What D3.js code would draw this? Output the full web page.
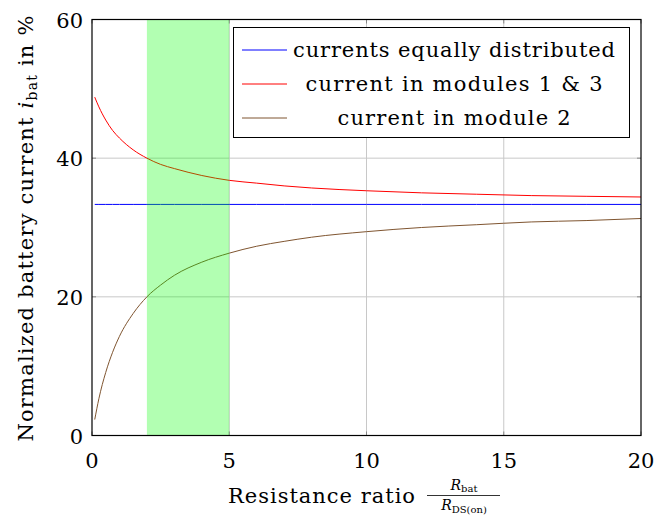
<!DOCTYPE html>
<html lang="en">
  <head>
    <meta charset="utf-8" />
    <script src="https://d3js.org/d3.v7.min.js"></script>
    <style>
      body { margin: 0; background: #fff; }
      text { font-family: "DejaVu Serif", serif; fill: #000; }
    </style>
  </head>
  <body>
    <svg id="chart" width="669" height="521"></svg>
    <script>
    // Data
    var ratios = [0.1, 0.25, 0.5, 0.75, 1, 1.5, 2, 2.5, 3, 4, 5, 6, 7, 8, 10, 12, 14, 16, 18, 20];
    var equalShare = [33.33, 33.33, 33.33, 33.33, 33.33, 33.33, 33.33, 33.33, 33.33, 33.33,
                      33.33, 33.33, 33.33, 33.33, 33.33, 33.33, 33.33, 33.33, 33.33, 33.33];
    var modules13 = [48.8, 47.4, 45.5, 44.0, 42.9, 41.2, 40.0, 39.1, 38.5, 37.5,
                     36.8, 36.4, 36.0, 35.7, 35.3, 35.0, 34.8, 34.6, 34.5, 34.4];
    var module2 = [2.3, 5.3, 9.1, 12.0, 14.3, 17.6, 20.0, 21.7, 23.1, 25.0,
                   26.3, 27.3, 28.0, 28.6, 29.4, 30.0, 30.4, 30.8, 31.0, 31.3];
    var xTicks = [0, 5, 10, 15, 20];
    var yTicks = [0, 20, 40, 60];
    var band = [2, 5];
    var seriesNames = ["currents equally distributed", "current in modules 1 & 3", "current in module 2"];
    var seriesColors = ["#0000ff", "#ff0000", "#7f5530"];

    var svg = d3.select("#chart");
    var pL = 92, pR = 641, pT = 19.5, pB = 435.5;

    var x = d3.scaleLinear().domain([0, 20]).range([pL, pR]);
    var y = d3.scaleLinear().domain([0, 60]).range([pB, pT]);

    // grid
    svg.append("g").selectAll("line")
      .data(xTicks.slice(1, -1)).enter().append("line")
        .attr("x1", d => x(d)).attr("x2", d => x(d))
        .attr("y1", pT).attr("y2", pB)
        .attr("stroke", "#c8c8c8").attr("stroke-width", 1);
    svg.append("g").selectAll("line")
      .data(yTicks.slice(1, -1)).enter().append("line")
        .attr("y1", d => y(d)).attr("y2", d => y(d))
        .attr("x1", pL).attr("x2", pR)
        .attr("stroke", "#c8c8c8").attr("stroke-width", 1);

    // ticks (inward, all four sides)
    var tk = svg.append("g").attr("stroke", "#888").attr("stroke-width", 1);
    xTicks.forEach(function(d) {
      tk.append("line").attr("x1", x(d)).attr("x2", x(d)).attr("y1", pB).attr("y2", pB - 4);
      tk.append("line").attr("x1", x(d)).attr("x2", x(d)).attr("y1", pT).attr("y2", pT + 4);
    });
    yTicks.forEach(function(d) {
      tk.append("line").attr("y1", y(d)).attr("y2", y(d)).attr("x1", pL).attr("x2", pL + 4);
      tk.append("line").attr("y1", y(d)).attr("y2", y(d)).attr("x1", pR).attr("x2", pR - 4);
    });

    // curves
    var line = d3.line().x(d => x(d[0])).y(d => y(d[1])).curve(d3.curveMonotoneX);
    [equalShare, modules13, module2].forEach(function(vals, i) {
      svg.append("path")
        .datum(ratios.map((r, j) => [r, vals[j]]))
        .attr("d", line)
        .attr("fill", "none")
        .attr("stroke", seriesColors[i])
        .attr("stroke-width", 1);
    });

    // highlighted range, drawn over the curves
    svg.append("rect")
      .attr("x", x(band[0])).attr("width", x(band[1]) - x(band[0]))
      .attr("y", pT).attr("height", pB - pT)
      .attr("fill", "#00ff00").attr("fill-opacity", 0.3);

    // frame
    svg.append("rect")
      .attr("x", pL).attr("y", pT).attr("width", pR - pL).attr("height", pB - pT)
      .attr("fill", "none").attr("stroke", "#000").attr("stroke-width", 1.2);

    // tick labels
    svg.append("g").selectAll("text")
      .data(xTicks).enter().append("text")
        .attr("x", d => x(d)).attr("y", 468)
        .attr("text-anchor", "middle").attr("font-size", 21)
        .text(d => d);
    svg.append("g").selectAll("text")
      .data(yTicks).enter().append("text")
        .attr("x", 83).attr("y", d => y(d) + 8)
        .attr("text-anchor", "end").attr("font-size", 21)
        .text(d => d);

    // legend
    var lg = svg.append("g");
    var legendWidths = [322, 297, 233];
    lg.append("rect")
      .attr("x", 233.5).attr("y", 27.5).attr("width", 396).attr("height", 110)
      .attr("fill", "#fff").attr("stroke", "#000").attr("stroke-width", 1);
    seriesNames.forEach(function(name, i) {
      var cy = 50 + i * 34;
      lg.append("line").attr("x1", 242).attr("x2", 287).attr("y1", cy).attr("y2", cy)
        .attr("stroke", seriesColors[i]).attr("stroke-width", 1);
      lg.append("text").attr("x", 454 - legendWidths[i] / 2).attr("y", cy + 7)
        .attr("font-size", 21)
        .attr("textLength", legendWidths[i]).attr("lengthAdjust", "spacing")
        .text(name);
    });

    // x axis label
    var xl = svg.append("g");
    xl.append("text").attr("x", 228).attr("y", 503).attr("font-size", 21)
      .attr("textLength", 187).attr("lengthAdjust", "spacing")
      .text("Resistance ratio");
    var fr = xl.append("text").attr("x", 464).attr("y", 490).attr("text-anchor", "middle").attr("font-size", 14);
    fr.append("tspan").attr("font-style", "italic").text("R");
    fr.append("tspan").attr("font-size", 10).attr("dy", 2).text("bat");
    xl.append("line").attr("x1", 427).attr("x2", 500).attr("y1", 495.5).attr("y2", 495.5)
      .attr("stroke", "#000").attr("stroke-width", 0.8);
    var dn = xl.append("text").attr("x", 464).attr("y", 510).attr("text-anchor", "middle").attr("font-size", 14);
    dn.append("tspan").attr("font-style", "italic").text("R");
    dn.append("tspan").attr("font-size", 10).attr("dy", 3).text("DS(on)");

    // y axis label
    var yl = svg.append("text")
      .attr("transform", "translate(33,228) rotate(-90)")
      .attr("text-anchor", "middle").attr("font-size", 21)
      .attr("letter-spacing", 1.2);
    yl.append("tspan").text("Normalized battery current ");
    yl.append("tspan").attr("font-style", "italic").text("i");
    yl.append("tspan").attr("font-size", 14).attr("dy", 4).text("bat");
    yl.append("tspan").attr("dy", -4).text(" in %");
    </script>
  </body>
</html>
